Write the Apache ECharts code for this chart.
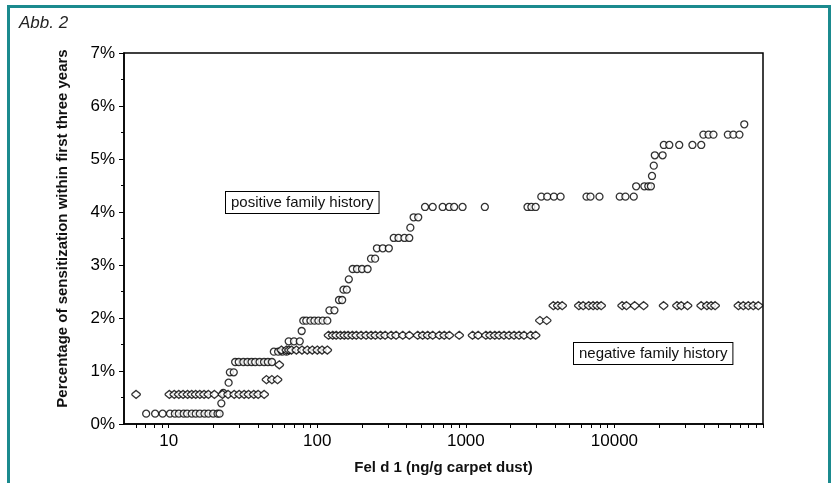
<!DOCTYPE html>
<html><head><meta charset="utf-8">
<script src="https://cdn.jsdelivr.net/npm/echarts@6/dist/echarts.min.js"></script>
<style>html,body{margin:0;padding:0;background:#fff}#c{width:834px;height:483px}</style>
</head><body><div id="c"></div>
<script>
// Percentage levels (cumulative) and Fel d 1 values (ng/g) at each level
const positiveLevels = [0.195, 0.39, 0.585, 0.78, 0.975, 1.17, 1.365, 1.56, 1.755, 1.95, 2.145, 2.34, 2.535, 2.73, 2.925, 3.12, 3.315, 3.51, 3.705, 3.9, 4.095, 4.29, 4.485, 4.68, 4.875, 5.07, 5.265, 5.46, 5.655];
const positiveFelD1 = [
  [7.05, 8.1, 9.1, 10.2, 11.0, 11.7, 12.6, 13.3, 14.3, 15.2, 16.2, 17.4, 18.5, 19.9, 21.3, 22.0],
  [22.6],
  [23.3],
  [25.3],
  [25.8, 27.4],
  [28.0, 29.6, 31.8, 33.9, 36.1, 38.2, 40.9, 43.8, 46.5, 49.5],
  [51, 54.5, 58, 62],
  [64.2, 69.7, 76.2],
  [78.5],
  [80.5, 84.3, 90, 95.6, 101.7, 108.8, 116.8],
  [120.7, 130.4],
  [140, 147],
  [150, 158],
  [163],
  [173, 185, 200, 218],
  [230, 245],
  [252, 276, 303],
  [327, 352, 386, 416],
  [423],
  [445, 478],
  [531, 598, 698, 773, 834, 950, 1342, 2600, 2760, 2950],
  [3220, 3530, 3915, 4340, 6490, 6900, 7930, 10860, 11860, 13490],
  [14000, 15900, 16900, 17600],
  [17900],
  [18400],
  [18700, 21100],
  [21500, 23400, 27300, 33500, 38400],
  [39700, 43000, 46400, 58000, 63200, 69400],
  [74800]
];
const negativeLevels = [0.558, 0.837, 1.116, 1.395, 1.674, 1.953, 2.232];
const negativeFelD1 = [
  [6.03, 10.1, 10.9, 11.7, 12.5, 13.4, 14.3, 15.2, 16.2, 17.3, 18.5, 20.3, 23.0, 25.1, 27.6, 29.8, 32.2, 34.5, 37.4, 40.0, 43.9],
  [45.5, 49.5, 54.0],
  [55.5],
  [57.3, 61.9, 64.5, 67, 72.3, 78.9, 85.6, 92.5, 100, 107.6, 116.8],
  [119, 127, 134, 143, 152, 161, 172, 183, 197, 213, 230, 246, 266, 286, 314, 339, 376, 416, 474, 512, 553, 598, 663, 715, 773, 902, 1109, 1209, 1363, 1456, 1565, 1673, 1806, 1953, 2110, 2280, 2462, 2730, 2950],
  [3150, 3500],
  [3880, 4160, 4450, 5760, 6160, 6720, 7190, 7650, 8140, 11270, 12050, 13690, 15730, 21430, 26360, 28180, 31050, 38370, 41900, 44800, 47600, 68300, 73700, 79700, 86000, 93000]
];
const xLabelValues = [10, 100, 1000, 10000];
const xTickValues = [6, 7, 8, 9, 10, 20, 30, 40, 50, 60, 70, 80, 90, 100, 200, 300, 400, 500, 600, 700, 800, 900, 1000, 2000, 3000, 4000, 5000, 6000, 7000, 8000, 9000, 10000, 20000, 30000, 40000, 50000, 60000, 70000, 80000, 90000, 100000];
const yTicks = [0, 1, 2, 3, 4, 5, 6, 7];

function toPairs(levels, xs) {
  const out = [];
  levels.forEach((lv, i) => xs[i].forEach(x => out.push([x, lv])));
  return out;
}

const FONT = '"Liberation Sans", Arial, sans-serif';
const roundedDiamond = 'path://M5,0 L8.6,3.6 Q10,5 8.6,6.4 L5,10 L1.4,6.4 Q0,5 1.4,3.6 Z';
const chart = echarts.init(document.getElementById('c'), null, {renderer: 'canvas'});
chart.setOption({
  animation: false,
  backgroundColor: '#fff',
  grid: {left: 124, right: 71, top: 53, bottom: 59, show: true, borderColor: '#000', borderWidth: 1.5, backgroundColor: 'transparent'},
  xAxis: {
    type: 'log', logBase: 10, min: 5, max: 100000,
    axisLine: {show: true, lineStyle: {color: '#000', width: 1.5}},
    axisTick: {show: true, length: 4, customValues: xTickValues, lineStyle: {color: '#000', width: 1}},
    axisLabel: {customValues: xLabelValues, fontSize: 17, color: '#000', margin: 9, fontFamily: FONT,
      formatter: v => String(Math.round(v))},
    splitLine: {show: false},
    name: 'Fel d 1 (ng/g carpet dust)', nameLocation: 'middle', nameGap: 36,
    nameTextStyle: {fontSize: 15, fontWeight: 'bold', color: '#111', fontFamily: FONT}
  },
  yAxis: {
    type: 'value', min: yTicks[0], max: yTicks[yTicks.length - 1], interval: 1,
    axisLine: {show: true, lineStyle: {color: '#000', width: 1.5}},
    axisTick: {show: true, length: 5, lineStyle: {color: '#000', width: 1}},
    minorTick: {show: true, splitNumber: 2, length: 3, lineStyle: {color: '#000', width: 1}},
    axisLabel: {formatter: '{value}%', fontSize: 17, color: '#000', margin: 9, fontFamily: FONT},
    splitLine: {show: false},
    name: 'Percentage of sensitization within first three years', nameLocation: 'middle', nameGap: 54,
    nameTextStyle: {fontSize: 15, fontWeight: 'bold', color: '#111', fontFamily: FONT, padding: [0, 0, 0, 20]}
  },
  series: [
    {name: 'positive family history', type: 'scatter', symbol: 'circle', symbolSize: 7,
      itemStyle: {color: '#fff', borderColor: '#000', borderWidth: 1.3}, data: toPairs(positiveLevels, positiveFelD1)},
    {name: 'negative family history', type: 'scatter', symbol: roundedDiamond, symbolSize: [8.5, 8],
      itemStyle: {color: '#fff', borderColor: '#000', borderWidth: 1.3}, data: toPairs(negativeLevels, negativeFelD1)}
  ],
  graphic: [
    {type: 'rect', shape: {x: 8.5, y: 6.5, width: 821, height: 500}, style: {fill: 'none', stroke: '#1b8a8e', lineWidth: 3}, silent: true},
    {type: 'text', x: 19, y: 15, style: {text: 'Abb. 2', font: 'italic 17px ' + FONT, fill: '#222'}},
    {type: 'text', x: 226, y: 192, z: 10, style: {text: 'positive family history', font: '15px ' + FONT, fill: '#111',
      backgroundColor: '#fff', borderColor: '#000', borderWidth: 1, padding: [3, 5, 3, 5]}},
    {type: 'text', x: 574, y: 343, z: 10, style: {text: 'negative family history', font: '15px ' + FONT, fill: '#111',
      backgroundColor: '#fff', borderColor: '#000', borderWidth: 1, padding: [3, 5, 3, 5]}}
  ]
});
</script></body></html>
